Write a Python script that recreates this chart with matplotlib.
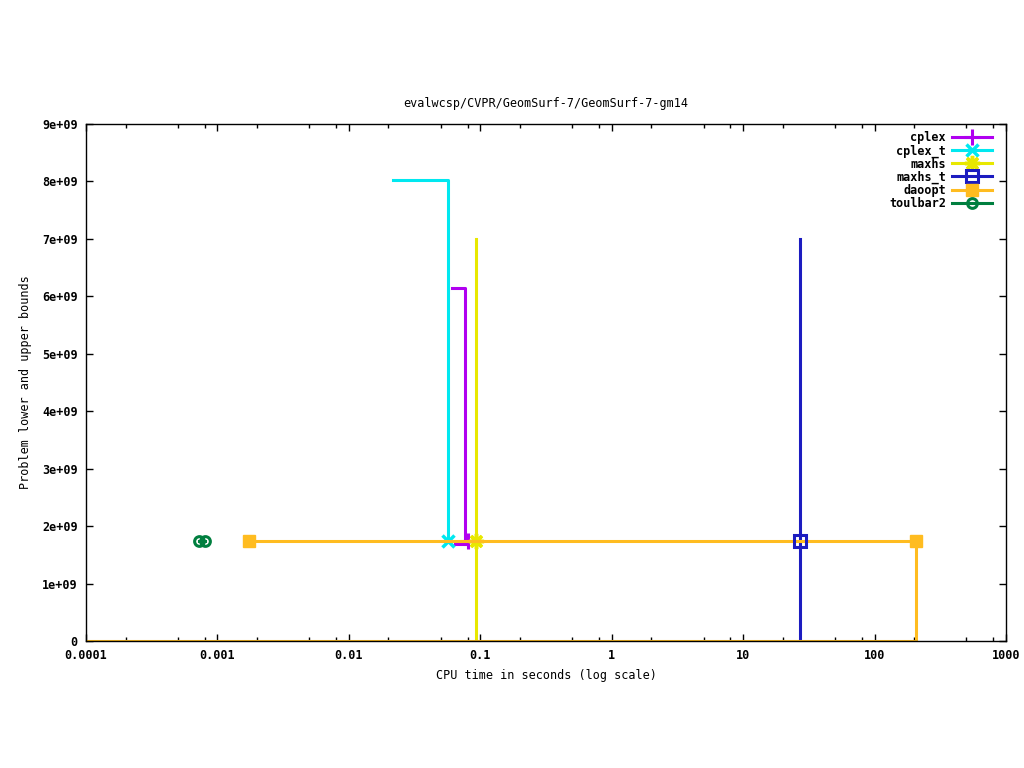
import numpy as np
import matplotlib
matplotlib.use('Agg')
import matplotlib.pyplot as plt
from matplotlib.ticker import FixedLocator, FixedFormatter, LogLocator, NullFormatter

# данные (время в секундах, значения границ)
opt = 1.74e9

cplex_ub_t = [0.061, 0.0766]
cplex_ub_v = [6.15e9, 1.68e9]
cplex_lb_t = [0.0643, 0.0806]
cplex_lb_v = [1.68e9, opt]

cplex_t_ub_t = [0.0217, 0.0568]
cplex_t_ub_v = [8.03e9, opt]

maxhs_t0 = [0.0927, 0.0927]
maxhs_ub_v = [7.0e9, opt]
maxhs_lb_v = [0.0, opt]

maxhs_t_t0 = [27.1, 27.1]
maxhs_t_ub_v = [7.0e9, opt]
maxhs_t_lb_v = [0.0, opt]

daoopt_ub_t = [0.00174, 206.6]
daoopt_ub_v = [opt, opt]
daoopt_lb_t = [0.0001, 206.6, 206.6]
daoopt_lb_v = [0.0, 0.0, opt]

toulbar2_t = [0.000724, 0.000805]
toulbar2_v = [opt, opt]

x_ticks = [0.0001, 0.001, 0.01, 0.1, 1, 10, 100, 1000]
x_labels = ['0.0001', '0.001', '0.01', '0.1', '1', '10', '100', '1000']
y_ticks = [0, 1e9, 2e9, 3e9, 4e9, 5e9, 6e9, 7e9, 8e9, 9e9]
y_labels = ['0', '1e+09', '2e+09', '3e+09', '4e+09', '5e+09', '6e+09', '7e+09', '8e+09', '9e+09']

colors = {
    'cplex': '#b000f0',
    'cplex_t': '#00e8f0',
    'maxhs': '#e8e800',
    'maxhs_t': '#1c1cc0',
    'daoopt': '#ffbc20',
    'toulbar2': '#007f3f',
}

plt.rcParams['font.family'] = ['DejaVu Sans Mono']
plt.rcParams['font.weight'] = 'bold'
plt.rcParams['font.size'] = 8.5

fig = plt.figure(figsize=(10.24, 7.68), dpi=100)
ax = fig.add_axes([86 / 1024, 1 - 641 / 768, 920 / 1024, 517 / 768])

lw = 2.2

# cplex
c = colors['cplex']
ax.plot(cplex_ub_t, cplex_ub_v, drawstyle='steps-post', color=c, lw=lw)
ax.plot(cplex_lb_t, cplex_lb_v, drawstyle='steps-post', color=c, lw=lw)
ax.plot(cplex_lb_t[-1:], cplex_lb_v[-1:], '+', color=c, ms=11, mew=2.2)

# cplex_t
c = colors['cplex_t']
ax.plot(cplex_t_ub_t, cplex_t_ub_v, drawstyle='steps-post', color=c, lw=lw)
ax.plot(cplex_t_ub_t[-1:], cplex_t_ub_v[-1:], 'x', color=c, ms=9, mew=2.5)

# maxhs
c = colors['maxhs']
ax.plot(maxhs_t0, maxhs_ub_v, color=c, lw=lw)
ax.plot(maxhs_t0, maxhs_lb_v, color=c, lw=lw)
ax.plot(maxhs_t0[-1:], maxhs_ub_v[-1:], marker=(8, 2, 0), ls='none', color=c, ms=11, mew=2.5)

# maxhs_t
c = colors['maxhs_t']
ax.plot(maxhs_t_t0, maxhs_t_ub_v, color=c, lw=lw)
ax.plot(maxhs_t_t0, maxhs_t_lb_v, color=c, lw=lw)

# daoopt
c = colors['daoopt']
ax.plot(daoopt_lb_t, daoopt_lb_v, color=c, lw=lw)
ax.plot(daoopt_ub_t, daoopt_ub_v, color=c, lw=lw)
ax.plot(daoopt_ub_t, daoopt_ub_v, 's', color=c, ms=9)

ax.plot(maxhs_t_t0[-1:], maxhs_t_ub_v[-1:], 's', color=colors['maxhs_t'],
        mfc='none', ms=8, mew=2.2)

# toulbar2
c = colors['toulbar2']
ax.plot(toulbar2_t, toulbar2_v, 'o-', color=c, lw=lw, mfc='none', ms=7, mew=2.2)

ax.set_xscale('log')
ax.set_xlim(1e-4, 1e3)
ax.set_ylim(0, 9e9)
ax.xaxis.set_major_locator(FixedLocator(x_ticks))
ax.xaxis.set_major_formatter(FixedFormatter(x_labels))
ax.xaxis.set_minor_locator(LogLocator(base=10, subs=[2, 5, 8]))
ax.xaxis.set_minor_formatter(NullFormatter())
ax.yaxis.set_major_locator(FixedLocator(y_ticks))
ax.yaxis.set_major_formatter(FixedFormatter(y_labels))

ax.tick_params(which='both', direction='in', top=True, right=True, width=1)
ax.tick_params(which='major', length=5.2, pad=6)
ax.tick_params(which='minor', length=2.8)
for s in ax.spines.values():
    s.set_linewidth(1)

ax.set_title('evalwcsp/CVPR/GeomSurf-7/GeomSurf-7-gm14', fontsize=8.5, pad=12)
ax.set_xlabel('CPU time in seconds (log scale)', labelpad=4.5)
ax.set_ylabel('Problem lower and upper bounds', labelpad=7)

# легенда
names = ['cplex', 'cplex_t', 'maxhs', 'maxhs_t', 'daoopt', 'toulbar2']
styles = [
    dict(marker='+', ms=11, mew=2.2),
    dict(marker='x', ms=9, mew=2.5),
    dict(marker=(8, 2, 0), ms=11, mew=2.5),
    dict(marker='s', ms=8, mew=2.2, mfc='none'),
    dict(marker='s', ms=9),
    dict(marker='o', ms=7, mew=2.2, mfc='none'),
]
handles = [plt.Line2D([], [], color=colors[n], lw=lw, **st) for n, st in zip(names, styles)]
ax.legend(handles, names, loc='upper right', bbox_to_anchor=(0.990, 0.995),
          markerfirst=False, frameon=False, handlelength=3.4, handletextpad=0.5,
          labelspacing=0.0, borderaxespad=0, numpoints=1)

fig.savefig('out.png', dpi=100)
